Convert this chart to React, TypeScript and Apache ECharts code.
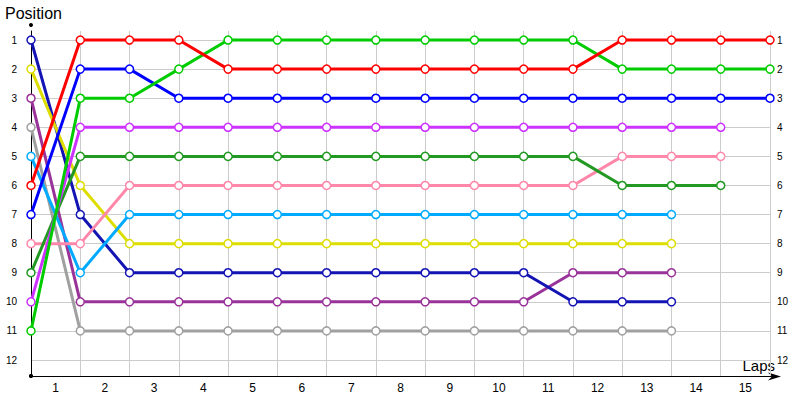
import React, { useEffect, useRef } from "react";
import * as echarts from "echarts";

const lapLabels = ["1", "2", "3", "4", "5", "6", "7", "8", "9", "10", "11", "12", "13", "14", "15"];

const redPositions = [6, 1, 1, 1, 2, 2, 2, 2, 2, 2, 2, 2, 1, 1, 1, 1];
const greenPositions = [11, 3, 3, 2, 1, 1, 1, 1, 1, 1, 1, 1, 2, 2, 2, 2];
const bluePositions = [7, 2, 2, 3, 3, 3, 3, 3, 3, 3, 3, 3, 3, 3, 3, 3];
const violetPositions = [10, 4, 4, 4, 4, 4, 4, 4, 4, 4, 4, 4, 4, 4, 4];
const darkGreenPositions = [9, 5, 5, 5, 5, 5, 5, 5, 5, 5, 5, 5, 6, 6, 6];
const pinkPositions = [8, 8, 6, 6, 6, 6, 6, 6, 6, 6, 6, 6, 5, 5, 5];
const lightBluePositions = [5, 9, 7, 7, 7, 7, 7, 7, 7, 7, 7, 7, 7, 7];
const yellowPositions = [2, 6, 8, 8, 8, 8, 8, 8, 8, 8, 8, 8, 8, 8];
const purplePositions = [3, 10, 10, 10, 10, 10, 10, 10, 10, 10, 10, 9, 9, 9];
const navyPositions = [1, 7, 9, 9, 9, 9, 9, 9, 9, 9, 9, 10, 10, 10];
const grayPositions = [4, 11, 11, 11, 11, 11, 11, 11, 11, 11, 11, 11, 11, 11];

const drivers = [
  { name: "Gray", color: "#a0a0a0", data: grayPositions },
  { name: "Purple", color: "#993399", data: purplePositions },
  { name: "Navy", color: "#1414b4", data: navyPositions },
  { name: "Yellow", color: "#dddd00", data: yellowPositions },
  { name: "Light Blue", color: "#00aaff", data: lightBluePositions },
  { name: "Pink", color: "#ff88aa", data: pinkPositions },
  { name: "Dark Green", color: "#229922", data: darkGreenPositions },
  { name: "Violet", color: "#cc33ff", data: violetPositions },
  { name: "Blue", color: "#0000ff", data: bluePositions },
  { name: "Green", color: "#00cc00", data: greenPositions },
  { name: "Red", color: "#ff0000", data: redPositions },
];

const labelFont = "'Liberation Sans', Arial, sans-serif";

export default function App() {
  const ref = useRef<HTMLDivElement>(null);

  useEffect(() => {
    if (!ref.current) return;
    const chart = echarts.init(ref.current, null, { renderer: "svg" });

    const intLabel = (v: number) => (Math.abs(v - Math.round(v)) < 1e-6 ? String(Math.round(v)) : "");

    const option: any = {
      animation: false,
      backgroundColor: "#ffffff",
      grid: { left: 31, right: 30, top: 31, bottom: 24, containLabel: false },
      xAxis: [
        {
          type: "value",
          min: 0,
          max: 15,
          interval: 1,
          position: "bottom",
          axisLine: {
            show: true,
            lineStyle: { color: "#000", width: 1 },
            symbol: ["circle", "none"],
            symbolSize: [4, 4],
          },
          axisTick: { show: false },
          axisLabel: { show: false },
          splitLine: { show: true, lineStyle: { color: "#cccccc", width: 1 } },
        },
        {
          type: "category",
          data: lapLabels,
          boundaryGap: true,
          position: "bottom",
          axisLine: { show: false },
          axisTick: { show: false },
          splitLine: { show: false },
          axisLabel: { show: true, color: "#000", fontSize: 12, fontFamily: labelFont, margin: 6, interval: 0 },
        },
      ],
      yAxis: [
        {
          type: "value",
          inverse: true,
          min: 0.69,
          max: 12.55,
          minInterval: 1,
          maxInterval: 1,
          splitNumber: 12,
          position: "left",
          axisLine: {
            show: true,
            lineStyle: { color: "#000", width: 1 },
            symbol: ["circle", "circle"],
            symbolSize: [4, 4],
            symbolOffset: [0, 6],
          },
          axisTick: { show: false },
          axisLabel: { color: "#000", fontSize: 10, fontFamily: labelFont, margin: 14, formatter: intLabel },
          splitLine: { show: true, showMinLine: false, showMaxLine: false, lineStyle: { color: "#cccccc", width: 1 } },
        },
        {
          type: "value",
          inverse: true,
          min: 0.69,
          max: 12.55,
          minInterval: 1,
          maxInterval: 1,
          splitNumber: 12,
          position: "right",
          axisLine: { show: false },
          axisTick: { show: false },
          axisLabel: { color: "#000", fontSize: 10, fontFamily: labelFont, margin: 7, formatter: intLabel },
          splitLine: { show: false },
        },
      ],
      graphic: [
        {
          type: "text",
          left: 5,
          top: 5,
          style: { text: "Position", fontSize: 16, fontFamily: labelFont, fill: "#000" },
        },
        {
          type: "text",
          x: 775,
          y: 373,
          style: { text: "Laps", fontSize: 15, fontFamily: labelFont, fill: "#000", align: "right", verticalAlign: "bottom" },
        },
        {
          type: "line",
          shape: { x1: 769, y1: 376.5, x2: 778, y2: 376.5 },
          style: { stroke: "#000", lineWidth: 1 },
          silent: true,
        },
        {
          type: "polygon",
          shape: { points: [[781, 376.5], [768, 372.5], [772, 376.5], [768, 380.5]] },
          style: { fill: "#000" },
          silent: true,
        },
      ],
      series: drivers.map((d) => ({
        name: d.name,
        type: "line",
        xAxisIndex: 0,
        yAxisIndex: 0,
        data: d.data.map((p, lap) => [lap, p]),
        symbol: "circle",
        symbolSize: 8,
        showAllSymbol: true,
        lineStyle: { color: d.color, width: 3 },
        itemStyle: { color: "#ffffff", borderColor: d.color, borderWidth: 1.5 },
        emphasis: { disabled: true },
        silent: true,
      })),
    };

    chart.setOption(option);
    return () => chart.dispose();
  }, []);

  return <div ref={ref} style={{ width: 800, height: 400, position: "absolute", left: 0, top: 0 }} />;
}
